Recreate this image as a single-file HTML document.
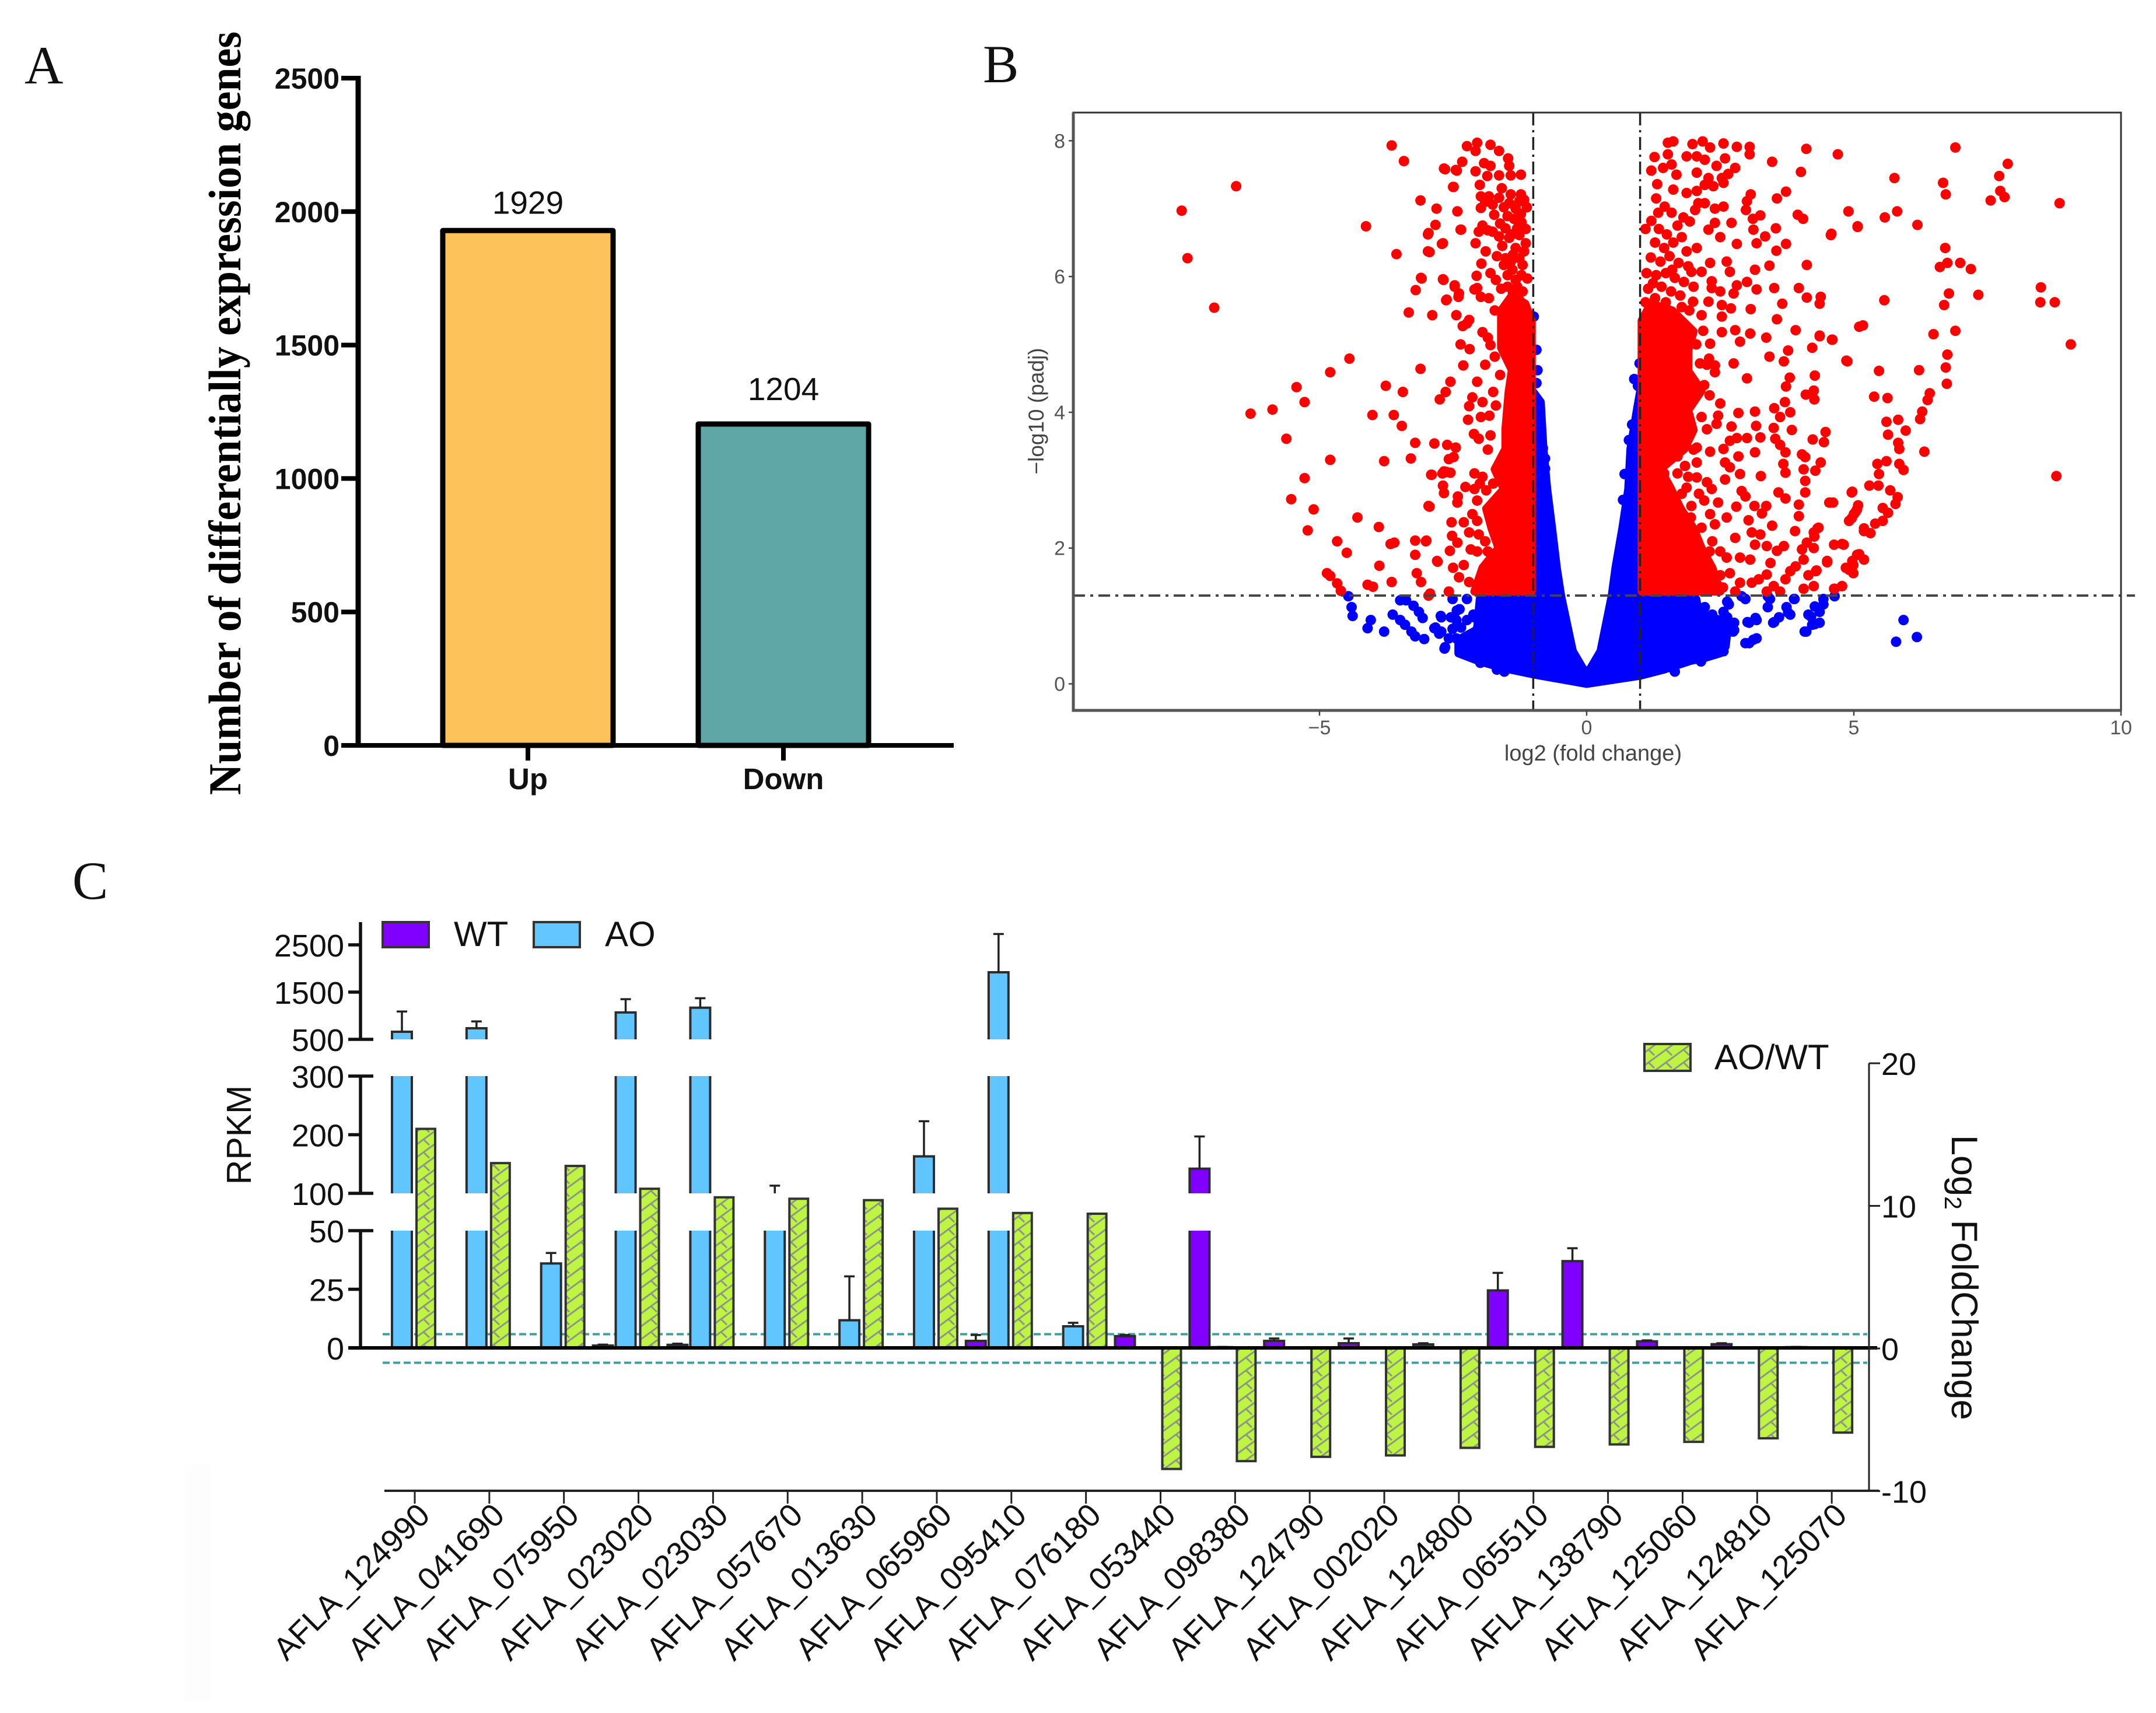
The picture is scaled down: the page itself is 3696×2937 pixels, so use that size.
<!DOCTYPE html>
<html lang="en">
<head>
<meta charset="utf-8">
<title>Differential expression figure</title>
<style>
html,body{margin:0;padding:0;background:#fff;}
svg{display:block;}
text{font-family:"Liberation Sans",Arial,sans-serif;}
.serif{font-family:"Liberation Serif","Times New Roman",serif;}
</style>
</head>
<body>
<svg id="fig" xmlns="http://www.w3.org/2000/svg" width="3696" height="2937" viewBox="0 0 3696 2937">
<defs>
<pattern id="hatch" patternUnits="userSpaceOnUse" width="30" height="22">
<rect width="30" height="22" fill="#bdf542"/>
<path d="M-3 24.2 L33 -2.2 M-3 46.2 L33 19.8 M-3 2.2 L33 -24.2 M6 17.6 L16 27.3 M6 -4.4 L16 5.3" fill="none" stroke="#8e9688" stroke-width="3"/>
</pattern>
</defs>
<rect x="0" y="0" width="3696" height="2937" fill="#ffffff"/>
<rect x="315" y="2510" width="46" height="405" fill="#fdfdfd"/>

<text class="serif" x="42" y="143" font-size="92" fill="#111">A</text>
<text class="serif" x="1685" y="141" font-size="92" fill="#111">B</text>
<text class="serif" x="124" y="1541" font-size="92" fill="#111">C</text>

<g id="panelA">
<text class="serif" transform="translate(412 1363) rotate(-90)" font-size="78" font-weight="bold" fill="#000" textLength="1309" lengthAdjust="spacingAndGlyphs">Number of differentially expression genes</text>
</g>

<g id="panelB">
<text x="2731" y="1304" font-size="38" fill="#444" text-anchor="middle">log2 (fold change)</text>
<text transform="translate(1789 705) rotate(-90)" font-size="37" fill="#444" text-anchor="middle">−log10 (padj)</text>
</g>

<g id="panelC">
<text transform="translate(430 1946) rotate(-90)" font-size="59" fill="#111" text-anchor="middle">RPKM</text>
<text transform="translate(3346 1946) rotate(90)" font-size="63" fill="#111">Log<tspan font-size="41" dy="12">2</tspan><tspan dy="-12"> FoldChange</tspan></text>
<rect x="656" y="1581" width="79" height="43" fill="#7f00ff" stroke="#333" stroke-width="4"/>
<text x="778" y="1622" font-size="60" fill="#111">WT</text>
<rect x="915" y="1581" width="79" height="43" fill="#63c6ff" stroke="#333" stroke-width="4"/>
<text x="1037" y="1622" font-size="60" fill="#111">AO</text>
<rect x="2819" y="1790" width="79" height="46" fill="url(#hatch)" stroke="#333" stroke-width="4"/>
<text x="2939" y="1833" font-size="60" fill="#111">AO/WT</text>
</g>
</svg>

<script>
/* ---------- Panel A data ---------- */
var degCategories = ["Up", "Down"];
var degCounts = [1929, 1204];
var degTicks = [0, 500, 1000, 1500, 2000, 2500];
var degColors = ["#fdc259", "#5fa6a6"];

/* ---------- Panel B data: [log2 fold change, -log10 padj] ---------- */
var volcanoXTicks = [-5, 0, 5, 10];
var volcanoYTicks = [0, 2, 4, 6, 8];
var foldThresholds = [-1, 1];
var padjThreshold = [1.3];
var denseRedLeft = [[-1.03,1.36],[-1.03,5.35],[-1.15,5.6],[-1.4,5.72],[-1.6,5.5],[-1.6,4.95],[-1.4,4.62],[-1.46,4.3],[-1.52,3.75],[-1.52,3.46],[-1.72,3.16],[-1.55,2.87],[-1.88,2.58],[-1.78,2.29],[-1.65,2],[-1.95,1.71],[-2.1,1.36]];
var denseRedRight = [[1.03,1.36],[1.03,5.35],[1.2,5.6],[1.6,5.5],[2,5.19],[1.9,4.91],[1.9,4.61],[2.15,4.32],[1.9,4.03],[2,3.74],[1.83,3.46],[1.38,3.16],[1.58,2.87],[1.76,2.58],[2,2.29],[2.15,2],[2.35,1.71],[2.5,1.36]];
var denseBlue = [[-1,4.3],[-0.86,4.15],[-0.81,3.46],[-0.74,2.87],[-0.65,2.3],[-0.56,1.71],[-0.48,1.3],[-0.26,0.48],[-0.05,0.2],[0.05,0.2],[0.26,0.48],[0.47,1.3],[0.54,1.71],[0.67,2.3],[0.78,2.87],[0.82,3.46],[0.94,4.03],[1,4.3],[1,1.3],[2.05,1.25],[2.1,1.05],[2.65,0.9],[2.6,0.55],[2.5,0.45],[2.2,0.38],[1.95,0.34],[1.44,0.21],[1,0.12],[0,0],[-1,0.14],[-1.55,0.23],[-2,0.33],[-2.4,0.45],[-2.4,0.65],[-2.05,0.8],[-2,1.25],[-1,1.3]];
var redPointsLeft = [[-6.56,7.33],[-7.58,6.97],[-7.47,6.27],[-6.97,5.54],[-3.65,7.93],[-3.42,7.7],[-4.13,6.74],[-3.56,6.33],[-3.11,7.12],[-2.81,7],[-2.65,7.58],[-2.43,7.56],[-2.49,7.32],[-2.42,6.96],[-2.83,6.76],[-2.97,6.62],[-2.69,6.49],[-2.94,6.36],[-2.35,6.69],[-3.1,5.98],[-3.2,5.8],[-2.68,5.95],[-2.47,5.85],[-2.62,5.66],[-2.4,5.7],[-3.33,5.47],[-2.89,5.43],[-2.44,5.43],[-2.24,5.31],[-2.1,5.81],[-4.44,4.79],[-4.8,4.59],[-3.11,4.64],[-5.43,4.37],[-5.28,4.15],[-5.88,4.04],[-6.29,3.98],[-5.62,3.61],[-4.8,3.3],[-5.28,3.03],[-5.53,2.72],[-5.11,2.57],[-5.22,2.26],[-4.29,2.45],[-3.89,2.31],[-4.67,2.1],[-4.49,1.93],[-3.88,1.74],[-4.86,1.63],[-4.8,1.59],[-4.67,1.48],[-4.6,1.37],[-3.76,4.39],[-3.44,4.3],[-4.01,3.96],[-3.61,3.96],[-3.46,3.8],[-3.21,3.55],[-2.85,3.54],[-3.29,3.32],[-3.79,3.28],[-2.9,3.08],[-2.7,3.1],[-2.62,3.12],[-2.94,2.61],[-3.21,2.11],[-3,2.11],[-3.67,2.06],[-3.6,2.08],[-3.21,1.9],[-2.79,1.8],[-3.18,1.63],[-3.1,1.5],[-3.65,1.5],[-4.1,1.46],[-4,1.43],[-2.93,1.33],
[-2.24,7.92],[-2.05,7.97],[-2.08,7.85],[-1.8,7.94],[-1.64,7.85],[-1.47,7.74],[-2.33,7.69],[-2.45,7.57],[-2.67,7.59],[-2.08,7.55],[-1.92,7.67],[-1.8,7.63],[-1.45,7.63],[-1.23,7.5],[-1.42,7.49],[-1.86,7.48],[-1.64,7.49],[-2.5,7.32],[-2,7.35],[-1.59,7.3],[-1.98,7.18],[-1.83,7.18],[-1.64,7.16],[-1.42,7.21],[-1.23,7.21],[-1.17,7.13],[-1.98,7.01],[-1.76,7.06],[-1.45,7.08],[-1.26,7.11],[-1.73,6.91],[-1.48,6.89],[-1.23,6.92],[-1.9,7.1],[-1.55,7.02],[-1.33,7],[-1.95,6.75],[-2.02,6.66],[-1.76,6.66],[-1.52,6.71],[-1.3,6.71],[-1.26,6.61],[-1.64,6.59],[-1.45,6.57],[-2.08,6.49],[-1.14,6.49],[-1.89,6.37],[-1.33,6.42],[-1.17,6.37],[-1.52,6.27],[-1.26,6.27],[-1.97,6.19],[-1.55,6.17],[-1.39,6.1],[-1.2,6.17],[-1.8,6.05],[-2.06,6.01],[-1.11,5.97],[-1.7,5.95],[-1.33,5.95],[-2.05,5.83],[-1.48,5.85],[-1.2,5.78],[-1.98,5.7],[-1.83,5.68],[-1.26,5.65],[-1.62,6.78],[-1.4,6.62],[-1.22,6.8],[-1.85,6.68],[-1.58,6.45],[-1.38,6.32],[-1.48,6.02],[-1.6,5.82],[-1.38,5.75],[-1.12,7.02],[-1.36,6.85],[-1.14,6.7],[-1.22,6.02],[-1.42,6.22],[-1.68,6.3],[-1.3,5.85],
[-2.96,6.64],[-2.36,6.69],[-2.71,6.48],[-2.97,6.37],[-3.09,5.97],[-2.69,5.96],[-2.47,5.87],[-2.39,5.75],[-2.63,5.65],[-2.2,5.36],[-2.32,5.27],[-1.95,5.18],[-1.8,4.99],[-2.36,5],[-2.19,4.93],[-2.31,4.69],[-2.55,4.45],[-2.64,4.3],[-2.75,4.19],[-2.05,4.45],[-2.14,4.22],[-2.2,4.09],[-2.22,3.89],[-1.98,3.93],[-2.11,3.68],[-2.02,3.61],[-1.8,3.66],[-2.61,3.52],[-2.45,3.48],[-2.49,3.34],[-2.58,3.31],[-2.67,3.13],[-2.55,3.11],[-2.91,3.08],[-2.1,3.1],[-2.27,2.9],[-2.1,2.87],[-2.69,2.92],[-2.67,2.81],[-2.41,2.76],[-2.42,2.67],[-2.96,2.62],[-2.14,2.5],[-2.53,2.38],[-2.3,2.38],[-2.2,2.23],[-2.02,2.2],[-2.52,2.18],[-2.42,2.08],[-3.01,2.1],[-2.17,1.98],[-2.56,1.96],[-2.8,1.81],[-2.5,1.71],[-2.39,1.57],[-2.96,1.3],[-2.58,1.36],[-1.9,4.7],[-1.75,4.3],[-1.95,4.15],[-1.82,3.95],[-1.72,5.5],[-1.85,5.1],[-1.95,3.05],[-2,2.95],[-2.05,2.7],[-2.05,2.4],[-1.72,4.82],[-1.62,4.55],[-1.7,4.1],[-1.85,3.45],[-1.75,2.95],[-1.88,2.85],[-1.9,2.1],[-1.85,1.95],[-2.05,1.95],[-2.3,1.75],[-2.2,1.5]];
var redPointsRight = [[1.52,7.97],[1.62,7.99],[1.98,7.95],[2.17,7.99],[2.31,7.9],[2.56,7.96],[2.81,7.91],[3.05,7.91],[3.05,7.8],[3.47,7.69],[4.11,7.88],[4.7,7.8],[4.01,7.54],[1.27,7.76],[1.52,7.8],[1.87,7.77],[2.06,7.77],[2.21,7.72],[2.59,7.74],[1.21,7.56],[1.43,7.6],[1.59,7.65],[1.68,7.5],[2.06,7.53],[2.43,7.63],[2.78,7.6],[2.65,7.51],[2.53,7.45],[2.28,7.45],[2.56,7.38],[1.32,7.36],[2.21,7.35],[2.37,7.33],[1.62,7.28],[1.87,7.23],[2.06,7.26],[3.73,7.25],[3.56,7.15],[3.07,7.21],[3,7.11],[1.3,7.15],[2.09,7.08],[2.21,7.08],[1.46,7.03],[2.56,7.03],[2.4,7],[2.03,6.98],[2.98,6.98],[4.9,6.96],[1.34,6.94],[1.59,6.94],[3.25,6.9],[3.95,6.91],[4.05,6.85],[3.11,6.85],[1.21,6.82],[1.81,6.87],[1.93,6.81],[2.71,6.79],[2.4,6.79],[5.07,6.74],[2.28,6.69],[3.54,6.71],[3.12,6.69],[4.58,6.63],[3.34,6.59],[2.5,6.58],[3.18,6.49],[3.73,6.48],[2.81,6.48],[3.55,6.38],[2.06,6.42],[1.87,6.37],[2.62,6.22],[4.12,6.17],[2.31,6.2],[2.68,6.07],[3.42,6.16],[3.15,6.1],[1.96,6.07],[2.15,6.07],[3,5.92],[2.81,5.87],[2.34,5.93],[3.18,5.81],[3.51,5.83],[3.97,5.83],[2.5,5.78],[2.75,5.75],[2.34,5.83],[4.38,5.7],[4.12,5.69],[4.36,5.6],[3.66,5.6],[2.28,5.63],[2.53,5.58],[2.7,5.53],[3.07,5.52],[1.99,5.63],[2.53,5.41],[3.56,5.37],[2.15,5.43],[3.91,5.21],[5.1,5.26],[2.53,5.18],[2.78,5.21],[3.06,5.16],[2.87,5.04],[3.36,5.1],[4.36,5.13],[4.59,5.07],[4.22,4.95],[2.31,5.01],[3.77,4.91],[3.42,4.82],[3.69,4.75],[4.86,4.76],[2.75,4.72],[2.29,4.79],[2.4,4.69],[2.4,4.59],[3,4.5],[4.27,4.54],[3.8,4.51],[3.73,4.38],[4.25,4.32],[4.1,4.26],[4.26,4.19],[3.71,4.15],
[2.5,4.13],[2.46,3.95],[2.84,3.99],[3.15,4.01],[3.51,4.06],[3.81,4],[3.62,3.93],[3.17,3.8],[2.15,3.93],[2.43,3.83],[2.71,3.79],[3.5,3.77],[3.84,3.74],[4.47,3.71],[2.25,3.75],[2.81,3.62],[3,3.62],[3.25,3.63],[2.68,3.58],[4.23,3.6],[4.44,3.56],[3.53,3.61],[3.62,3.52],[2.06,3.48],[2.31,3.42],[2.56,3.46],[3.15,3.41],[3.72,3.41],[4.03,3.38],[2.84,3.35],[4.09,3.34],[4.38,3.26],[3.68,3.24],[2.06,3.26],[2.59,3.26],[2.68,3.19],[4.06,3.16],[4.28,3.14],[1.84,3.21],[2.87,3.09],[3.26,3.06],[3.72,3.11],[4.09,2.99],[2.59,3.01],[2.06,3.04],[2.25,2.97],[2.34,2.87],[1.87,2.89],[2.9,2.84],[4.97,2.83],[4.09,2.82],[3.59,2.82],[3.72,2.73],[2.97,2.76],[1.96,2.62],[2.46,2.67],[3.97,2.64],[4.56,2.67],[2.8,2.61],[3.36,2.62],[3.14,2.62],[5.06,2.57],[3.28,2.51],[2.31,2.5],[3.97,2.47],[5,2.5],[2.62,2.45],[4.91,2.4],[3.03,2.41],[3.47,2.33],[4.34,2.3],[4.25,2.23],[3.9,2.25],[3.09,2.23],[3.25,2.2],[5.19,2.25],[2.78,2.15],[3.15,2.05],[3.37,2.03],[3.69,2.03],[4.12,2.08],[4.63,2.05],[4.81,2.05],[4.03,1.98],[4.25,2],[3.56,1.96],[5.1,1.91],[4.97,1.81],[4.5,1.81],[4.06,1.83],[3.44,1.78],[2.87,1.86],[3.06,1.83],[2.62,1.86],[4.91,1.68],[3.91,1.73],[3.81,1.66],[4.3,1.67],[3.72,1.54],[3.37,1.61],[2.68,1.63],[2.87,1.49],[3.09,1.49],[3.22,1.54],[3.5,1.44],[4.06,1.4],[4.25,1.44],[4.63,1.4],[4.78,1.44],[2.78,1.36],[3.37,1.36],[3.62,1.36],
[1.35,6.7],[1.5,6.62],[1.7,6.75],[1.28,6.5],[1.45,6.42],[1.62,6.5],[1.78,6.58],[1.2,6.28],[1.38,6.22],[1.55,6.3],[1.72,6.2],[1.9,6.15],[1.3,6.02],[1.48,6.05],[1.65,5.98],[1.82,5.92],[2,5.85],[1.15,5.82],[1.4,5.85],[1.58,5.78],[1.75,5.72],[1.1,5.62],[1.1,6.7],[1.28,5.68],[1.48,5.62],[2.25,4.7],[2.2,4.4],[2.3,4.25],[2.12,4.72],[2.05,5],[2.18,5.2],[2,3.45],[1.85,3.55],[1.9,3.05],[2.1,2.8],[2.2,2.7],[2.4,2.35],[2.35,2.1],[2.5,1.95],[2.5,1.6],[2.55,1.42],[1.12,6.05],[1.24,5.9],[1.6,6.1],[1.78,5.55],[1.92,5.5],[1.7,3.35],[1.52,3.32],[1.45,3.1],[1.7,3.1],[1.78,2.8],[1.95,2.45],[2.15,2.3],[2.3,1.95]];
var redPointsFar = [[5.76,7.45],[6.67,7.38],[6.72,7.21],[5.81,6.96],[5.58,6.87],[4.9,6.96],[5.07,6.73],[4.57,6.61],[6.19,6.76],[6.9,7.9],[7.88,7.66],[7.72,7.48],[7.74,7.26],[7.82,7.17],[7.56,7.12],[8.85,7.08],[6.71,6.42],[6.61,6.14],[6.75,6.2],[6.99,6.2],[7.19,6.11],[7.33,5.73],[6.78,5.75],[6.69,5.58],[5.57,5.65],[8.5,5.84],[8.49,5.62],[8.76,5.62],[9.06,5],[6.49,5.15],[6.9,5.2],[5.17,5.28],[4.6,5.07],[4.88,4.75],[4.36,5.12],[5.47,4.61],[6.22,4.62],[6.75,4.85],[6.72,4.66],[6.74,4.42],[6.42,4.28],[6.38,4.18],[5.38,4.23],[5.63,4.21],[6.28,4.01],[6.24,3.9],[5.61,3.86],[5.83,3.89],[5.97,3.73],[5.64,3.67],[5.83,3.55],[5.85,3.46],[6.32,3.42],[8.79,3.06],[5.61,3.28],[5.44,3.24],[5.85,3.24],[5.93,3.15],[5.47,3.09],[5.29,2.92],[5.46,2.92],[5.68,2.85],[5.82,2.75],[5.78,2.65],[4.96,2.82],[5.08,2.63],[5.03,2.53],[4.96,2.44],[5.54,2.59],[5.64,2.52],[5.54,2.4],[5.4,2.36],[5.31,2.22],[4.61,2.67],[4.54,2.67],[5.19,2.29],[4.32,2.29],[4.26,2.17],[4.78,2.06],[5.06,1.9],[5.19,1.83],[4.99,1.75],[4.85,1.71],[4.99,1.63],[4.5,1.79],[4.29,1.66],[4.15,1.6],[4.64,1.4],[4.78,1.44]];
var bluePoints = [[-0.99,5.41],[-0.94,4.92],[-0.92,4.62],[-0.94,4.43],[-0.88,4.05],[-0.85,3.7],[-0.82,3.47],[-0.78,3.32],[-0.78,3.17],[0.99,4.72],[0.89,4.49],[0.96,4.39],[0.85,3.82],[0.79,3.59],[0.71,3.09],[0.68,2.71],[5.93,0.94],[5.79,0.62],[6.18,0.69],[-4.46,1.29],[-4.4,1.13],[-4.38,1],[-4.04,0.94],[-4.1,0.82],[-3.79,0.77],[-3.63,1.02],[-3.49,1.23],[-3.38,1.23],[-3.24,1.15],[-3.14,1.06],[-3.07,0.97],[-3.49,0.94],[-3.4,0.87],[-3.28,0.77],[-3.21,0.7],[-3.04,0.66],[-2.83,0.83],[-2.72,0.77],[-2.65,0.54],[-2.72,0.98],[-2.51,1.25],[-2.38,1.1],[-2.44,0.94],[-2.51,0.81],[-2.24,1.25],[-2.35,0.83],[-2.24,0.94],[-2.1,0.98],[-2.03,0.83],[-2.44,0.67],[-2.24,0.48],[-1.99,0.31],[-1.68,0.21],[-1.54,0.18],[-2.3,0.65],[-1.96,0.6],[-2.12,1.02],[-2.54,0.98],[-2.76,0.74],[-2.85,0.82],[-2.58,0.67],[-2.66,0.52],[-2.43,1.08],[-2.73,1],[4.64,1.29],[4.43,1.17],[4.36,1.06],[4.15,1.02],[4.36,0.9],[4.22,0.87],[4.11,0.77],[3.88,1.25],[3.74,1.13],[3.81,1.02],[3.6,0.98],[3.49,0.9],[3.39,1.29],[3.39,1.13],[3.18,0.94],[3.04,0.9],[3.18,0.67],[3.04,0.6],[2.9,1.29],[2.97,1.25],[2.63,1.21],[2.56,1.06],[2.21,1.13],[2.35,1.02],[2.63,0.98],[2.76,0.9],[2.76,0.79],[2.42,0.83],[2.56,0.67],[2.56,0.48],[2.14,0.33],[1.65,0.18],[2.28,0.71],[2,1.25],[3.43,1.25],[3.89,1.25],[3.77,1.05],[3.51,0.91],[3.16,0.97],[3.01,0.91],[3.12,0.65],[2.97,0.6],[4.43,1.25],[4.27,1.14],[4.2,0.99],[4.27,0.88],[4.08,0.77],[2.74,0.77],[2.66,1.17]];

/* ---------- Panel C data ---------- */
var geneIds = ["AFLA_124990","AFLA_041690","AFLA_075950","AFLA_023020","AFLA_023030","AFLA_057670","AFLA_013630","AFLA_065960","AFLA_095410","AFLA_076180","AFLA_053440","AFLA_098380","AFLA_124790","AFLA_002020","AFLA_124800","AFLA_065510","AFLA_138790","AFLA_125060","AFLA_124810","AFLA_125070"];
var wtValues = [0,0,0,1,1.3,0,0,0,3,0,5,142,3,2,1.5,24.5,37,2.8,1.6,0.3];
var wtErrors = [0,0,0,1.4,1.8,0,0,0,5.5,0,5.5,197,4,4,2,32,42.5,3.2,2,0.4];
var aoValues = [660,735,36,1070,1170,100,11.8,163,1920,9.2,0,0.3,0,0,0,0,0,0,0,0];
var aoErrors = [1090,880,40.5,1350,1370,113,30.5,223,2730,10.7,0,0.4,0,0,0,0,0,0,0,0];
var ratioValues = [15.4,13,12.8,11.2,10.6,10.5,10.4,9.8,9.5,9.45,-8.45,-7.9,-7.6,-7.5,-6.97,-6.9,-6.73,-6.55,-6.3,-5.9];
var rpkmTicks = [0,25,50,100,200,300,500,1500,2500];
var rpkmMajor = [50,100,300,500];
var foldTicks = [-10,0,10,20];
var foldGuides = [1,-1];

var NS = "http://www.w3.org/2000/svg";
function mk(parent, tag, attrs, txt) {
  var el = document.createElementNS(NS, tag);
  for (var k in attrs) { el.setAttribute(k, attrs[k]); }
  if (txt !== undefined) { el.textContent = txt; }
  document.getElementById(parent).appendChild(el);
  return el;
}

/* ---------- Panel A ---------- */
function ya(v) { return 1278 - v * (1278 - 134) / 2500; }
var aCenters = [905, 1343];
degTicks.forEach(function (t) {
  var ln = mk('panelA', 'line', {x1: 585, x2: 614, y1: ya(t), y2: ya(t), stroke: '#000', 'stroke-width': 8});
  
  
  var tx = mk('panelA', 'text', {x: 582, y: ya(t) + 18, 'font-size': 50, 'font-weight': 'bold', 'text-anchor': 'end', fill: '#111'}, String(t));
  
  
});
degCategories.forEach(function (c, i) {
  var bar = mk('panelA', 'rect', {x: aCenters[i] - 146, y: ya(degCounts[i]), width: 292, height: ya(0) - ya(degCounts[i]), fill: degColors[i], stroke: '#000', 'stroke-width': 9, 'stroke-linejoin': 'round'});
  
  
  var val = mk('panelA', 'text', {x: aCenters[i], y: ya(degCounts[i]) - (i === 0 ? 29 : 41), 'font-size': 55, 'text-anchor': 'middle', fill: '#111'}, String(degCounts[i]));
  
  
  var tk = mk('panelA', 'line', {x1: aCenters[i], x2: aCenters[i], y1: 1278, y2: 1304, stroke: '#000', 'stroke-width': 8});
  
  
  var lb = mk('panelA', 'text', {x: aCenters[i], y: 1353, 'font-size': 51, 'font-weight': 'bold', 'text-anchor': 'middle', fill: '#111'}, c);
  
  
});
var aY = mk('panelA', 'line', {x1: 614, x2: 614, y1: 130, y2: 1282, stroke: '#000', 'stroke-width': 9});


var aX = mk('panelA', 'line', {x1: 610, x2: 1635, y1: 1278, y2: 1278, stroke: '#000', 'stroke-width': 8});



/* ---------- Panel B ---------- */
function xv(v) { return 2720 + v * 91.6; }
function yv(v) { return 1172.5 - v * 116.4; }
function area(list, color, name) {
  var d = list.map(function (p, i) { return (i ? 'L' : 'M') + xv(p[0]).toFixed(1) + ' ' + yv(p[1]).toFixed(1); }).join(' ') + ' Z';
  var el = mk('panelB', 'path', {d: d, fill: color, stroke: color, 'stroke-width': 14, 'stroke-linejoin': 'round'});
  
  
}
function dots(list, color, name) {
  list.forEach(function (p) {
    var el = mk('panelB', 'circle', {cx: xv(p[0]).toFixed(1), cy: yv(p[1]).toFixed(1), r: 9, fill: color});
    
    
  });
}
area(denseBlue, '#0000ff', 'dense-not-significant-area');
dots(bluePoints, '#0000ff', 'not-significant-point');
area(denseRedLeft, '#ff0000', 'dense-down-regulated-area');
area(denseRedRight, '#ff0000', 'dense-up-regulated-area');
dots(redPointsLeft, '#ff0000', 'down-regulated-point');
dots(redPointsRight, '#ff0000', 'up-regulated-point');
dots(redPointsFar, '#ff0000', 'up-regulated-point');

foldThresholds.forEach(function (t) {
  var el = mk('panelB', 'line', {x1: xv(t), x2: xv(t), y1: 193, y2: 1218, stroke: '#222', 'stroke-width': 3.5, 'stroke-dasharray': '22 8 4 8'});
  
  
});
padjThreshold.forEach(function (t) {
  var el = mk('panelB', 'line', {x1: 1840, x2: 3660, y1: yv(t), y2: yv(t), stroke: '#444', 'stroke-width': 4, 'stroke-dasharray': '20 9 5 9'});
  
  
});
var frame = mk('panelB', 'rect', {x: 1840, y: 193, width: 1796, height: 1025, fill: 'none', stroke: '#333', 'stroke-width': 3});


var frameB = mk('panelB', 'path', {d: 'M1840 193V1218H3636', fill: 'none', stroke: '#555', 'stroke-width': 5});


volcanoXTicks.forEach(function (t) {
  var tk = mk('panelB', 'line', {x1: xv(t), x2: xv(t), y1: 1218, y2: 1227, stroke: '#444', 'stroke-width': 2.5});
  
  
  var lb = mk('panelB', 'text', {x: xv(t), y: 1259, 'font-size': 34, 'text-anchor': 'middle', fill: '#555'}, (t < 0 ? '−' + (-t) : String(t)));
  
  
});
volcanoYTicks.forEach(function (t) {
  var tk = mk('panelB', 'line', {x1: 1832, x2: 1840, y1: yv(t), y2: yv(t), stroke: '#444', 'stroke-width': 2.5});
  
  
  var lb = mk('panelB', 'text', {x: 1826, y: yv(t) + 12, 'font-size': 34, 'text-anchor': 'end', fill: '#555'}, String(t));
  
  
});

/* ---------- Panel C ---------- */
function rpkmLow(v) { return 2311 - v * (2311 - 2110) / 50; }
function rpkmMid(v) { return 2046 - (v - 100) * (2046 - 1845) / 200; }
function rpkmHigh(v) { return 1782 - (v - 500) * (1782 - 1620) / 2000; }
function rpkmY(v) {
  if (v <= 50) return rpkmLow(v);
  if (v < 100) return rpkmLow(50);
  if (v <= 300) return rpkmMid(v);
  if (v < 500) return rpkmMid(300);
  return rpkmHigh(v);
}
function foldY(v) { return 2312 - v * 24.45; }
function geneX(i) { return 711 + i * 127.85; }
var rpkmSegments = [[0, 50, rpkmLow], [100, 300, rpkmMid], [500, 1e9, rpkmHigh]];

function rpkmBar(value, err, cx, color, name) {
  var w = 34;
  rpkmSegments.forEach(function (seg) {
    if (value <= seg[0]) return;
    var top = Math.min(value, seg[1]);
    var y0 = seg[2](seg[0]), y1 = seg[2](top);
    var body = mk('panelC', 'rect', {x: cx - w / 2, y: y1, width: w, height: y0 - y1, fill: color});
    
    
    var sides = mk('panelC', 'path', {d: 'M' + (cx - w / 2) + ' ' + y0 + 'V' + y1 + (value <= seg[1] ? 'H' + (cx + w / 2) : 'M' + (cx + w / 2) + ' ' + y1) + 'V' + y0, fill: 'none', stroke: '#2c2c2c', 'stroke-width': 4});
    
    
  });
  if (err > value) {
    var ye = rpkmY(err), yb = rpkmY(value);
    var eb = mk('panelC', 'path', {d: 'M' + cx + ' ' + yb + 'V' + ye + 'M' + (cx - 9) + ' ' + ye + 'H' + (cx + 9), fill: 'none', stroke: '#222', 'stroke-width': 3.5});
    
    
  }
}

foldGuides.forEach(function (g) {
  var el = mk('panelC', 'line', {x1: 656, x2: 3201, y1: foldY(g), y2: foldY(g), stroke: '#3f9f9f', 'stroke-width': 4, 'stroke-dasharray': '12 6'});
  
  
});

geneIds.forEach(function (g, i) {
  var t = geneX(i);
  rpkmBar(wtValues[i], wtErrors[i], t - 61, '#7f00ff', 'bar-wt');
  rpkmBar(aoValues[i], aoErrors[i], t - 22, '#61c5ff', 'bar-ao');
  var v = ratioValues[i];
  var yTop = Math.min(foldY(v), foldY(0));
  var rb = mk('panelC', 'rect', {x: t + 3, y: yTop, width: 32, height: Math.abs(foldY(v) - foldY(0)), fill: 'url(#hatch)', stroke: '#333', 'stroke-width': 4});
  
  
  var tk = mk('panelC', 'line', {x1: t, x2: t, y1: 2556, y2: 2578, stroke: '#222', 'stroke-width': 3});
  
  
  var lb = mk('panelC', 'text', {transform: 'translate(' + (t + 29) + ' 2601) rotate(-45)', 'font-size': 55, 'text-anchor': 'end', fill: '#111'}, g);
  
  
});

var axisSegs = [[2110, 2311], [1845, 2046], [1581, 1782]];
axisSegs.forEach(function (s) {
  var el = mk('panelC', 'line', {x1: 618, x2: 618, y1: s[0], y2: s[1], stroke: '#111', 'stroke-width': 5.5});
  
  
});
rpkmTicks.forEach(function (t) {
  var major = rpkmMajor.indexOf(t) >= 0;
  var y = rpkmY(t);
  var tk = mk('panelC', 'line', {x1: 597, x2: major ? 640 : 618, y1: y, y2: y, stroke: '#111', 'stroke-width': 5.5});
  
  
  var lb = mk('panelC', 'text', {x: 590, y: y + 20, 'font-size': 54, 'text-anchor': 'end', fill: '#111'}, String(t));
  
  
});
var base = mk('panelC', 'line', {x1: 597, x2: 3218, y1: 2311, y2: 2311, stroke: '#000', 'stroke-width': 6});


var rAxis = mk('panelC', 'line', {x1: 3204, x2: 3204, y1: foldY(20), y2: foldY(-10), stroke: '#222', 'stroke-width': 3});


var bAxis = mk('panelC', 'line', {x1: 659, x2: 3221, y1: 2556, y2: 2556, stroke: '#222', 'stroke-width': 4});


foldTicks.forEach(function (t) {
  var y = foldY(t);
  var tk = mk('panelC', 'line', {x1: 3204, x2: 3223, y1: y, y2: y, stroke: '#222', 'stroke-width': 3});
  
  
  var lb = mk('panelC', 'text', {x: 3225, y: y + 20, 'font-size': 54, fill: '#111'}, String(t));
  
  
});
</script>
</body>
</html>
